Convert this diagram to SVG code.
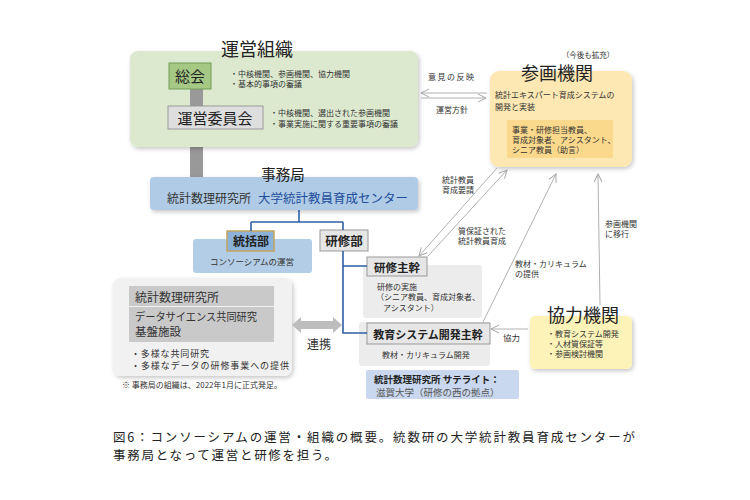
<svg xmlns="http://www.w3.org/2000/svg" width="750" height="500" viewBox="0 0 750 500">
<defs>
<filter id="sh" x="-10%" y="-10%" width="125%" height="130%"><feDropShadow dx="1.5" dy="2" stdDeviation="2" flood-color="#000" flood-opacity="0.22"/></filter>
<marker id="ah" viewBox="0 0 10 10" refX="9" refY="5" markerWidth="10" markerHeight="10" markerUnits="userSpaceOnUse" orient="auto"><path d="M1,1 L9,5 L1,9" fill="none" stroke="#a8a8a8" stroke-width="1"/></marker>
</defs>
<style>
text{font-family:"Noto Sans CJK JP","Noto Sans",sans-serif;fill:#333}
.big{font-size:18px;fill:#222}
.s8{font-size:8px}
.b{font-weight:bold;fill:#222}
.m{text-anchor:middle}
.ar{stroke:#b0b0b0;stroke-width:1;fill:none;marker-end:url(#ah)}
.bl{stroke:#2f5ea6;stroke-width:1.6;fill:none}
.gbox{fill:#e6e6e6;stroke:#9a9a9a;stroke-width:1}
.panel{fill:#ececec}
</style>
<rect width="750" height="500" fill="#fff"/>

<g id="bar-lower"><rect x="190" y="140" width="13" height="37" fill="#999"/></g>

<g id="unei">
<rect x="130" y="51" width="288" height="96" rx="8" fill="#dce9cf" filter="url(#sh)"/>
<text x="257" y="56" class="big m">運営組織</text>
<rect x="190" y="89" width="13" height="17" fill="#999"/>
<g id="sokai">
<rect x="169" y="63" width="42" height="26" fill="#a5c985" stroke="#739b52"/>
<text x="190" y="82" class="m" style="font-size:15px;fill:#222">総会</text>
</g>
<text x="230" y="77" class="s8">・中核機関、参画機関、協力機関</text>
<text x="230" y="87" class="s8">・基本的事項の審議</text>
<g id="iinkai">
<rect x="168" y="106" width="95" height="23" fill="#dedede" stroke="#9a9a9a"/>
<text x="215" y="124" class="m" style="font-size:15px;fill:#222">運営委員会</text>
</g>
<text x="270" y="116" class="s8">・中核機関、選出された参画機関</text>
<text x="270" y="127" class="s8">・事業実施に関する重要事項の審議</text>
</g>

<g id="sankaku">
<rect x="490" y="71" width="142" height="96" rx="9" fill="#fde7b2" filter="url(#sh)"/>
<text x="557" y="80" class="big m">参画機関</text>
<text x="588" y="58" class="m" style="font-size:7.5px">（今後も拡充）</text>
<text x="495" y="98" class="s8">統計エキスパート育成システムの</text>
<text x="495" y="110" class="s8">開発と実装</text>
<rect x="507" y="120" width="106" height="38" fill="#fbd98c"/>
<text x="512" y="133" class="s8">事業・研修担当教員、</text>
<text x="512" y="143" class="s8">育成対象者、アシスタント、</text>
<text x="512" y="153" class="s8">シニア教員（助言）</text>
</g>

<g id="jimukyoku">
<rect x="150" y="177" width="268" height="33" rx="4" fill="#b0cbe5" filter="url(#sh)"/>
<text x="283" y="180" class="m" style="font-size:14.5px;fill:#222">事務局</text>
<text x="167" y="203" style="font-size:12px">統計数理研究所</text>
<text x="258" y="203" style="font-size:12.5px;fill:#1f4e9c">大学統計教員育成センター</text>
</g>

<g id="tokatsu">
<rect x="193" y="239" width="119" height="34" rx="3" fill="#b3cde6"/>
<rect x="227" y="231" width="47" height="20" fill="#8db2da" stroke="#c4a55e" stroke-width="1.5"/>
<text x="251" y="246" class="b m" style="font-size:12px">統括部</text>
<text x="252" y="265" class="m" style="font-size:8.5px">コンソーシアムの運営</text>
</g>

<g id="kenshubu">
<rect x="320" y="230" width="48" height="21" class="gbox"/>
<text x="344" y="246" class="b m" style="font-size:12.5px">研修部</text>
</g>

<g id="kenshu-shukan">
<rect x="363" y="265" width="119" height="53" rx="3" class="panel"/>
<rect x="367" y="257" width="60" height="19" class="gbox"/>
<text x="397" y="272" class="b m" style="font-size:11.5px">研修主幹</text>
<text x="377" y="290" class="s8">研修の実施</text>
<text x="376" y="300" class="s8">（シニア教員、育成対象者、</text>
<text x="383" y="311" class="s8">アシスタント）</text>
</g>

<g id="kyoiku">
<rect x="359" y="322" width="131" height="44" rx="3" class="panel"/>
<rect x="367" y="323" width="123" height="21" class="gbox"/>
<text x="428" y="339" class="b m" style="font-size:11px">教育システム開発主幹</text>
<text x="382" y="358" class="s8">教材・カリキュラム開発</text>
</g>

<g id="satellite">
<rect x="366" y="370" width="153" height="29" rx="2" fill="#c9d8ee"/>
<text x="374" y="383" class="b" style="font-size:9.5px">統計数理研究所 サテライト：</text>
<text x="376" y="396" style="font-size:9.5px;fill:#555">滋賀大学（研修の西の拠点）</text>
</g>

<g id="kyoryoku">
<rect x="530" y="316" width="102" height="53" rx="5" fill="#fdf3b8" filter="url(#sh)"/>
<text x="583" y="322" class="big m">協力機関</text>
<text x="547" y="337" class="s8">・教育システム開発</text>
<text x="547" y="347" class="s8">・人材質保証等</text>
<text x="547" y="357" class="s8">・参画検討機関</text>
</g>

<g id="ism">
<rect x="113" y="278" width="179" height="98" rx="8" fill="#f1f1f1" filter="url(#sh)"/>
<rect x="129" y="286" width="145" height="20" fill="#c9c9c9"/>
<rect x="129" y="307" width="145" height="35" fill="#c9c9c9"/>
<text x="135" y="302" style="font-size:12px">統計数理研究所</text>
<text x="135" y="321" style="font-size:11px" textLength="122" lengthAdjust="spacingAndGlyphs">データサイエンス共同研究</text>
<text x="135" y="336" style="font-size:11.5px">基盤施設</text>
<text x="131" y="357" style="font-size:9px" textLength="78">・多様な共同研究</text>
<text x="131" y="369" style="font-size:9px" textLength="158">・多様なデータの研修事業への提供</text>
</g>

<text x="122" y="388" style="font-size:8px">※  事務局の組織は、2022年1月に正式発足。</text>

<g id="connectors">
<path class="bl" d="M299,210 V222 M251,222 H343 M251,222 V231 M343,222 V230 M343,251 V333 H367 M343,266 H367"/>
<line class="ar" x1="487" y1="93" x2="421" y2="93"/>
<line class="ar" x1="421" y1="98" x2="486" y2="98"/>
<line class="ar" x1="497" y1="168" x2="419" y2="256"/>
<line class="ar" x1="428" y1="256" x2="507" y2="170"/>
<line class="ar" x1="483" y1="322" x2="556" y2="174"/>
<line class="ar" x1="600" y1="305" x2="598" y2="174"/>
<line class="ar" x1="528" y1="329" x2="491" y2="329"/>
<polygon points="292,325 301,317 301,321 333,321 333,317 342,325 333,333 333,329 301,329 301,333" fill="#bdbdbd"/>
<text x="428" y="80" class="s8" textLength="46">意見の反映</text>
<text x="436" y="113" class="s8">運営方針</text>
<text x="442" y="183" class="s8">統計教員</text>
<text x="442" y="193" class="s8">育成要請</text>
<text x="458" y="234" class="s8">質保証された</text>
<text x="458" y="244" class="s8">統計教員育成</text>
<text x="515" y="267" class="s8">教材・カリキュラム</text>
<text x="515" y="277" class="s8">の提供</text>
<text x="605" y="227" class="s8">参画機関</text>
<text x="605" y="237" class="s8">に移行</text>
<text x="503" y="341" style="font-size:8.5px">協力</text>
<text x="307" y="349" style="font-size:12px">連携</text>
</g>

<g id="caption">
<text x="113" y="442" style="font-size:12.5px;fill:#222" textLength="522">図6：コンソーシアムの運営・組織の概要。統数研の大学統計教員育成センターが</text>
<text x="113" y="460" style="font-size:12.5px;fill:#222" textLength="224">事務局となって運営と研修を担う。</text>
</g>
</svg>
